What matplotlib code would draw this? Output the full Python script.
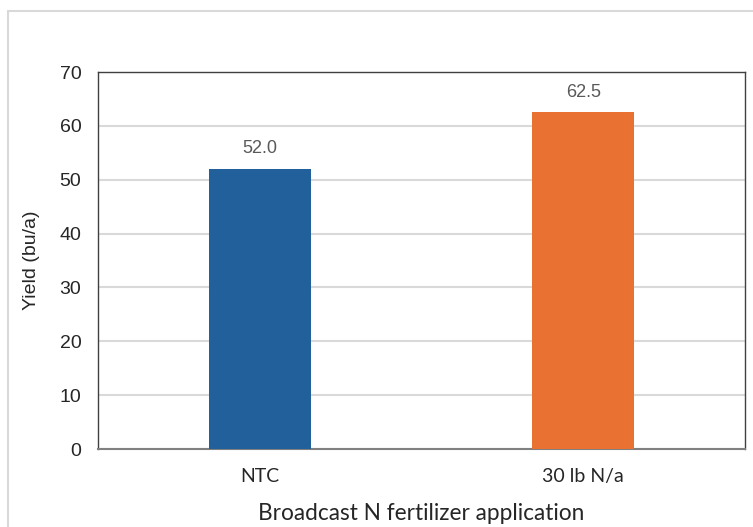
import matplotlib
matplotlib.use("Agg")
import matplotlib.pyplot as plt
from matplotlib.patches import Rectangle

categories = ["NTC", "30 lb N/a"]
yields = [52.0, 62.5]
colors = ["#22609B", "#E97132"]
yticks = [0, 10, 20, 30, 40, 50, 60, 70]

fig = plt.figure(figsize=(7.53, 5.27), dpi=100)
fig.patches.append(Rectangle((8/753, -0.1), 1.2, (527-11)/527 + 0.1, transform=fig.transFigure,
                             fill=False, edgecolor="#d9d9d9", linewidth=1.5, zorder=0))
ax = fig.add_axes([98/753, 1-449/527, 647/753, 377/527])

x = list(range(len(categories)))
bars = ax.bar(x, yields, width=0.315, color=colors, zorder=3)
for xi, v in zip(x, yields):
    ax.text(xi, v + 2.2, f"{v:.1f}", ha="center", va="bottom", fontsize=13,
            color="#595959", family="Liberation Sans")

ax.set_xlim(-0.5, 1.5)
ax.set_ylim(0, 70)
ax.set_yticks(yticks)
ax.set_yticklabels([str(t) for t in yticks], fontsize=14, family="Liberation Sans", color="#262626")
ax.set_xticks(x)
ax.set_xticklabels(categories, fontsize=14, family="Lato", color="#262626")
ax.tick_params(axis="both", length=0, pad=12)
ax.tick_params(axis="x", pad=14)
ax.yaxis.grid(True, color="#d9d9d9", linewidth=1.5, zorder=0)
ax.set_axisbelow(True)
for s in ["top", "left", "right"]:
    ax.spines[s].set_color("#404040")
    ax.spines[s].set_linewidth(1.0)
ax.spines["bottom"].set_color("#808080")
ax.spines["bottom"].set_linewidth(1.5)

ax.set_ylabel("Yield (bu/a)", fontsize=14, family="Liberation Sans", color="#262626", labelpad=14)
ax.set_xlabel("Broadcast N fertilizer application", fontsize=16.3, family="Lato", color="#262626", labelpad=13)

fig.savefig("out.png", dpi=100)
